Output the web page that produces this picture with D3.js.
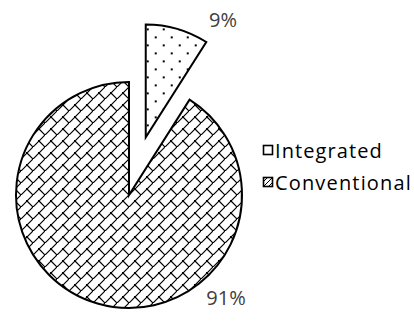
<!DOCTYPE html>
<html><head><meta charset="utf-8">
<script src="https://cdn.jsdelivr.net/npm/d3@7"></script>
<style>body{margin:0;background:#fff;}svg{display:block;}</style>
</head><body>
<svg id="c" width="414" height="327"></svg>
<script>
const categories = ["Integrated", "Conventional"];
const values = [9, 91];
const labels = ["9%", "91%"];

const svg = d3.select("#c");
const defs = svg.append("defs");

// dotted pattern (Integrated)
const pDot = defs.append("pattern").attr("id","dots").attr("patternUnits","userSpaceOnUse")
  .attr("width",16).attr("height",16).attr("x",1).attr("y",3);
pDot.append("rect").attr("width",16).attr("height",16).attr("fill","#fff");
pDot.append("rect").attr("x",0).attr("y",0).attr("width",2).attr("height",2).attr("fill","#000");
pDot.append("rect").attr("x",8).attr("y",8).attr("width",2).attr("height",2).attr("fill","#000");

// diagonal brick pattern (Conventional)
const s = 12;
const pBrick = defs.append("pattern").attr("id","brick").attr("patternUnits","userSpaceOnUse")
  .attr("width",s).attr("height",s);
pBrick.append("rect").attr("width",s).attr("height",s).attr("fill","#fff");
pBrick.append("path").attr("d",`M-1,${s+1}L${s+1},-1 M${s/2},${s/2}L${s+1},${s+1} M0,0L-1,-1`)
  .attr("stroke","#000").attr("stroke-width",1.2).attr("fill","none");
pBrick.append("rect").attr("x",s/2-1).attr("y",s/2-1).attr("width",2).attr("height",2).attr("fill","#000");

// small legend patterns
const pLeg = defs.append("pattern").attr("id","legbrick").attr("patternUnits","userSpaceOnUse")
  .attr("width",5).attr("height",5);
pLeg.append("rect").attr("width",5).attr("height",5).attr("fill","#fff");
pLeg.append("path").attr("d","M0,5L5,0").attr("stroke","#000").attr("stroke-width",1);

const fills = ["url(#dots)", "url(#brick)"];

const cx = 129, cy = 195, R = 113;
const explode = [60, 0];

const pie = d3.pie().sort(null).value(d => d)(values);
const arc = d3.arc().innerRadius(0).outerRadius(R);

const g = svg.append("g").attr("transform", `translate(${cx},${cy})`);
g.selectAll("path.slice").data(pie).join("path")
  .attr("class","slice")
  .attr("transform", (d,i) => {
    const a = (d.startAngle + d.endAngle)/2;
    return `translate(${explode[i]*Math.sin(a)},${-explode[i]*Math.cos(a)})`;
  })
  .attr("d", arc)
  .attr("fill", (d,i) => fills[i])
  .attr("stroke","#000").attr("stroke-width",2).attr("stroke-linejoin","miter");

// data labels
const labelPos = [[94, -168], [97, 110]];
g.selectAll("text.lbl").data(pie).join("text")
  .attr("class","lbl")
  .attr("x",(d,i)=>labelPos[i][0]).attr("y",(d,i)=>labelPos[i][1])
  .attr("text-anchor","middle")
  .attr("font-family","'Open Sans', sans-serif").attr("font-size",20)
  .attr("fill","#404040")
  .text((d,i)=>labels[i]);

// legend
const leg = svg.append("g").attr("transform","translate(263,145)");
const legFills = ["#fff", "url(#legbrick)"];
const legWidths = [108, 137];
const items = leg.selectAll("g").data(categories).join("g")
  .attr("transform",(d,i)=>`translate(0,${i*32})`);
items.append("rect").attr("x",0.5).attr("y",0.5).attr("width",9).attr("height",9)
  .attr("fill",(d,i)=>legFills[i]).attr("stroke","#000").attr("stroke-width",1.6);
items.append("text").attr("x",12).attr("y",12.5)
  .attr("font-family","'Open Sans', sans-serif").attr("font-size",20)
  .attr("fill","#000").text(d=>d)
  .each(function(d,i){
    const w = this.getComputedTextLength();
    const n = d.length;
    d3.select(this).attr("letter-spacing", ((legWidths[i]-w)/n).toFixed(2));
  });
</script>
</body></html>
